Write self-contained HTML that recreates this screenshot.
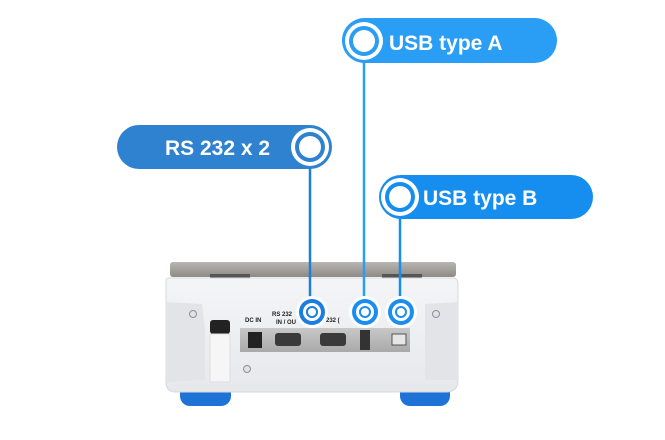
<!DOCTYPE html>
<html><head><style>
html,body{margin:0;padding:0;background:#fff;}
svg{display:block}
text{font-family:"Liberation Sans",sans-serif;font-weight:bold;}
</style></head><body>
<svg width="665" height="440" viewBox="0 0 665 440" xmlns="http://www.w3.org/2000/svg">
<defs>
<linearGradient id="plat" x1="0" y1="0" x2="0" y2="1"><stop offset="0" stop-color="#b9b6b2"/><stop offset="1" stop-color="#8e8a86"/></linearGradient>
<linearGradient id="body" x1="0" y1="0" x2="0" y2="1"><stop offset="0" stop-color="#f4f5f7"/><stop offset="1" stop-color="#e6e8ec"/></linearGradient>
<linearGradient id="metal" x1="0" y1="0" x2="0" y2="1"><stop offset="0" stop-color="#c8c8c8"/><stop offset="1" stop-color="#a9a9a9"/></linearGradient>
</defs>
<!-- feet -->
<rect x="180" y="380" width="51" height="26" rx="10" fill="#1f73d6"/>
<rect x="400" y="380" width="50" height="26" rx="10" fill="#1f73d6"/>
<!-- platform -->
<rect x="170" y="262" width="286" height="15" rx="3" fill="url(#plat)"/>
<rect x="210" y="274" width="40" height="6" fill="#555"/>
<rect x="382" y="274" width="40" height="6" fill="#555"/>
<!-- body -->
<path d="M166 280 Q166 278 170 278 L452 278 Q458 278 458 284 L458 380 Q458 392 446 392 L176 392 Q166 392 166 382 Z" fill="url(#body)" stroke="#d5d8dd"/>
<path d="M166 302 L202 304 L205 330 L205 380 L166 382 Z" fill="#e2e4e8"/>
<path d="M425 304 L458 302 L458 380 L425 380 Z" fill="#e2e4e8"/>
<circle cx="193" cy="314" r="3.5" fill="#dfe3e8" stroke="#8a9099"/>
<circle cx="436" cy="314" r="3.5" fill="#dfe3e8" stroke="#8a9099"/>
<circle cx="247" cy="369" r="3.5" fill="#dfe3e8" stroke="#8a9099"/>
<!-- knob -->
<rect x="210" y="320" width="20" height="14" rx="3" fill="#222"/>
<rect x="210" y="334" width="20" height="48" rx="2" fill="#f6f6f6" stroke="#ddd"/>
<!-- metal strip -->
<rect x="240" y="328" width="170" height="24" fill="url(#metal)"/>
<rect x="248" y="332" width="14" height="16" fill="#222"/>
<rect x="275" y="333" width="26" height="13" rx="3" fill="#3a3a3a"/>
<rect x="320" y="333" width="26" height="13" rx="3" fill="#3a3a3a"/>
<rect x="360" y="330" width="10" height="20" fill="#333"/>
<rect x="392" y="334" width="14" height="11" fill="#e6e6e6" stroke="#555"/>
<text x="245" y="322" font-size="6" fill="#222">DC IN</text>
<text x="272" y="316" font-size="6" fill="#222">RS 232</text>
<text x="276" y="324" font-size="6" fill="#222">IN / OU</text>
<text x="326" y="322" font-size="6" fill="#222">232 (</text>
<!-- connector lines -->
<line x1="310" y1="160" x2="310" y2="312" stroke="#1e7fd8" stroke-width="2.5"/>
<line x1="364" y1="50" x2="364" y2="312" stroke="#2a9df4" stroke-width="2.5"/>
<line x1="400" y1="208" x2="400" y2="312" stroke="#168ef0" stroke-width="2.5"/>
<!-- bottom markers -->
<g>
<circle cx="312" cy="312" r="16" fill="#fff"/><circle cx="312" cy="312" r="13" fill="#1a7de0"/><circle cx="312" cy="312" r="9" fill="#fff"/><circle cx="312" cy="312" r="6" fill="#1a7de0"/><circle cx="312" cy="312" r="4" fill="#fff"/>
<circle cx="365" cy="312" r="16" fill="#fff"/><circle cx="365" cy="312" r="13" fill="#1a8ef0"/><circle cx="365" cy="312" r="9" fill="#fff"/><circle cx="365" cy="312" r="6" fill="#1a8ef0"/><circle cx="365" cy="312" r="4" fill="#fff"/>
<circle cx="401" cy="312" r="16" fill="#fff"/><circle cx="401" cy="312" r="13" fill="#1a8ef0"/><circle cx="401" cy="312" r="9" fill="#fff"/><circle cx="401" cy="312" r="6" fill="#1a8ef0"/><circle cx="401" cy="312" r="4" fill="#fff"/>
</g>
<!-- pills -->
<rect x="342" y="18" width="215" height="45" rx="22.5" fill="#2a9df4"/>
<circle cx="364" cy="41" r="19" fill="#fff"/><circle cx="364" cy="41" r="15" fill="#2a9df4"/><circle cx="364" cy="41" r="11" fill="#fff"/>
<text x="389" y="50" font-size="21" fill="#fff">USB type A</text>

<rect x="117" y="125" width="215" height="44" rx="22" fill="#2e82d0"/>
<circle cx="310" cy="147" r="19" fill="#fff"/><circle cx="310" cy="147" r="15" fill="#2e82d0"/><circle cx="310" cy="147" r="11" fill="#fff"/>
<text x="165" y="155" font-size="21" fill="#fff">RS 232 x 2</text>

<rect x="379" y="175" width="214" height="44" rx="22" fill="#168ef0"/>
<circle cx="400" cy="197" r="19" fill="#fff"/><circle cx="400" cy="197" r="15" fill="#168ef0"/><circle cx="400" cy="197" r="11" fill="#fff"/>
<text x="423" y="205" font-size="21" fill="#fff">USB type B</text>
</svg>
</body></html>
